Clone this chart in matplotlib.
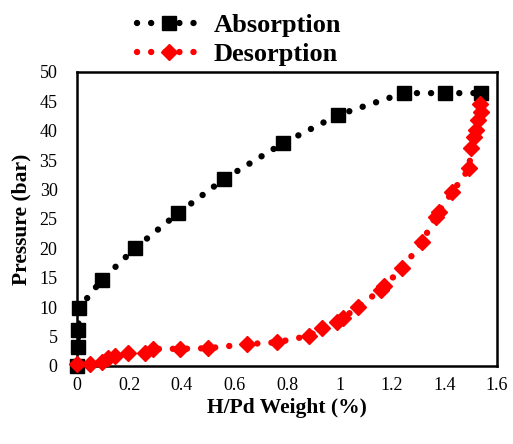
import matplotlib
matplotlib.use('Agg')
import matplotlib.pyplot as plt
from matplotlib.lines import Line2D

# absorption (black squares)
abs_x = [0, 0.003, 0.005, 0.008, 0.094, 0.221, 0.386, 0.561, 0.786, 0.996, 1.244, 1.40, 1.538]
abs_y = [0, 3.2, 6.1, 9.8, 14.6, 20.0, 26.0, 31.8, 37.9, 42.7, 46.4, 46.4, 46.4]

# desorption (red diamonds)
des_x = [0, 0.05, 0.094, 0.12, 0.145, 0.196, 0.26, 0.29, 0.393, 0.50, 0.648, 0.76,
         0.883, 0.934, 0.991, 1.015, 1.07, 1.157, 1.17, 1.239, 1.315, 1.366, 1.378,
         1.43, 1.494, 1.50, 1.513, 1.519, 1.526, 1.538, 1.536]
des_y = [0.3, 0.3, 0.7, 1.4, 1.6, 2.2, 2.2, 2.9, 2.9, 3.0, 3.7, 4.0,
         5.1, 6.4, 7.5, 8.2, 10.0, 12.9, 13.6, 16.6, 21.1, 25.4, 26.2,
         29.6, 33.6, 37.0, 39.0, 40.1, 41.8, 43.2, 44.5]

x_ticks = [0, 0.2, 0.4, 0.6, 0.8, 1.0, 1.2, 1.4, 1.6]
x_labels = ['0', '0.2', '0.4', '0.6', '0.8', '1', '1.2', '1.4', '1.6']
y_ticks = list(range(0, 51, 5))

plt.rcParams['font.family'] = ['Liberation Serif', 'DejaVu Serif']

fig = plt.figure(figsize=(5.13, 4.44), dpi=100)
ax = fig.add_axes([0.150, 0.176, 0.819, 0.662])

lw = 4.6
dots = (0, (0.01, 2.2))
ax.plot(abs_x, abs_y, color='black', lw=lw, ls=dots, dash_capstyle='round', zorder=2)
ax.plot(abs_x, abs_y, color='black', ls='none', marker='s', ms=10.5, zorder=3, clip_on=False)
ax.plot(des_x, des_y, color='red', lw=lw, ls=dots, dash_capstyle='round', zorder=4)
ax.plot(des_x, des_y, color='red', ls='none', marker='D', ms=8.5, zorder=5, clip_on=False)

ax.set_xlim(0, 1.6)
ax.set_ylim(0, 50)
ax.set_xticks(x_ticks)
ax.set_xticklabels(x_labels)
ax.set_yticks(y_ticks)
ax.tick_params(axis='both', length=0, labelsize=13)
ax.tick_params(axis='x', pad=8)
ax.tick_params(axis='y', pad=14)
for s in ax.spines.values():
    s.set_linewidth(1.8)
ax.set_xlabel('H/Pd Weight (%)', fontsize=15.5, fontweight='bold', labelpad=3)
ax.set_ylabel('Pressure (bar)', fontsize=15.5, fontweight='bold', labelpad=6)

handles = [
    Line2D([], [], color='black', lw=lw, ls=dots, dash_capstyle='round',
           marker='s', ms=10.5),
    Line2D([], [], color='red', lw=lw, ls=dots, dash_capstyle='round',
           marker='D', ms=8.5),
]
fig.legend(handles, ['Absorption', 'Desorption'], loc='center',
           bbox_to_anchor=(0.466, 0.910), frameon=False, numpoints=1,
           prop={'size': 19, 'weight': 'bold'}, handlelength=2.4,
           handletextpad=0.5, labelspacing=0.22, borderpad=0)

fig.savefig('out.png', dpi=100)
